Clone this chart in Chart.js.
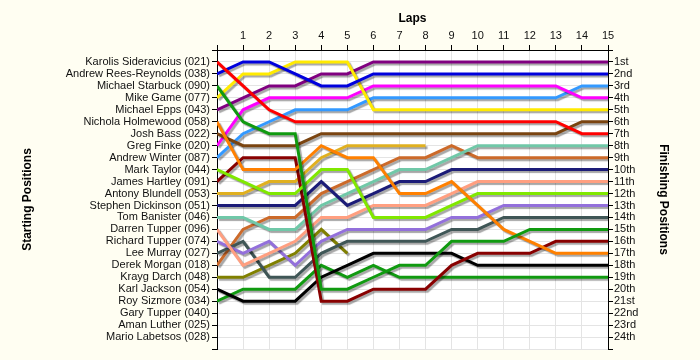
<!DOCTYPE html>
<html>
<head>
<meta charset="utf-8">
<script src="https://cdn.jsdelivr.net/npm/chart.js@4.4.1/dist/chart.umd.min.js"></script>
<style>
    html, body { margin: 0; padding: 0; background: #fffef2; }
    #wrap { width: 700px; height: 360px; }
</style>
</head>
<body>
<div id="wrap"><canvas id="lapChart" width="700" height="360"></canvas></div>
<script>
// Laps along the top
const laps = [0, 1, 2, 3, 4, 5, 6, 7, 8, 9, 10, 11, 12, 13, 14, 15];
const lapLabels = ['', '1', '2', '3', '4', '5', '6', '7', '8', '9', '10', '11', '12', '13', '14', '15'];

// Grid order, left axis
const startingNames = [
    'Karolis Sideravicius (021)', 'Andrew Rees-Reynolds (038)', 'Michael Starbuck (090)',
    'Mike Game (077)', 'Michael Epps (043)', 'Nichola Holmewood (058)', 'Josh Bass (022)',
    'Greg Finke (020)', 'Andrew Winter (087)', 'Mark Taylor (044)', 'James Hartley (091)',
    'Antony Blundell (053)', 'Stephen Dickinson (051)', 'Tom Banister (046)',
    'Darren Tupper (096)', 'Richard Tupper (074)', 'Lee Murray (027)', 'Derek Morgan (018)',
    'Krayg Darch (048)', 'Karl Jackson (054)', 'Roy Sizmore (034)', 'Gary Tupper (040)',
    'Aman Luther (025)', 'Mario Labetsos (028)'
];

// Right axis
const finishLabels = [
    '1st', '2nd', '3rd', '4th', '5th', '6th', '7th', '8th', '9th', '10th', '11th', '12th',
    '13th', '14th', '15th', '16th', '17th', '18th', '19th', '20th', '21st', '22nd', '23rd', '24th'
];

// Position at each lap (lap 0 = grid)
const sideravicius = [1, 3, 5, 6, 6, 6, 6, 6, 6, 6, 6, 6, 6, 6, 7, 7];
const reesReynolds = [2, 1, 1, 2, 3, 3, 2, 2, 2, 2, 2, 2, 2, 2, 2, 2];
const starbuck     = [3, 6, 7, 7, 20, 20, 19, 18, 18, 16, 16, 16, 15, 15, 15, 15];
const game         = [4, 2, 2, 1, 1, 1, 5, 5, 5, 5, 5, 5, 5, 5, 5, 5];
const epps         = [5, 4, 3, 3, 2, 2, 1, 1, 1, 1, 1, 1, 1, 1, 1, 1];
const holmewood    = [6, 10, 10, 10, 8, 9, 9, 12, 12, 11, 13, 15, 16, 17, 17, 17];
const bass         = [7, 8, 8, 8, 7, 7, 7, 7, 7, 7, 7, 7, 7, 7, 6, 6];
const finke        = [8, 5, 4, 4, 4, 4, 3, 3, 3, 3, 3, 3, 3, 3, 4, 4];
const winter       = [9, 7, 6, 5, 5, 5, 4, 4, 4, 4, 4, 4, 4, 4, 3, 3];
const taylor       = [10, 11, 12, 12, 10, 10, 14, 14, 14, 13, 12, 12, 12, 12, 12, 12];
const hartley      = [11, 9, 9, 9, 21, 21, 20, 20, 20, 18, 17, 17, 17, 16, 16, 16];
const blundell     = [12, 12, 11, 11, 9, 8, 8, 8, 8];
const dickinson    = [13, 13, 13, 13, 11, 13, 12, 11, 11, 10, 10, 10, 10, 10, 10, 10];
const banister     = [14, 14, 15, 15, 13, 12, 11, 10, 10, 9, 8, 8, 8, 8, 8, 8];
const dTupper      = [15, 18, 17, 16, 14, 14, 13, 13, 13, 12, 11, 11, 11, 11, 11, 11];
const rTupper      = [16, 17, 16, 18, 16, 15, 15, 15, 15, 14, 14, 13, 13, 13, 13, 13];
const murray       = [17, 16, 19, 19, 17, 16, 16, 16, 16, 15, 15, 14, 14, 14, 14, 14];
const morgan       = [18, 15, 14, 14, 12, 11, 10, 9, 9, 8, 9, 9, 9, 9, 9, 9];
const darch        = [19, 19, 18, 17, 15, 17];
const jackson      = [20, 21, 21, 21, 19, 18, 17, 17, 17, 17, 18, 18, 18, 18, 18, 18];
const sizmore      = [21, 20, 20, 20, 18, 19, 18, 19, 19, 19, 19, 19, 19, 19, 19, 19];

const runners = [
    sideravicius, reesReynolds, starbuck, game, epps, holmewood, bass, finke, winter, taylor,
    hartley, blundell, dickinson, banister, dTupper, rTupper, murray, morgan, darch, jackson, sizmore
];

const lineColors = [
    '#ff0000', '#0000dd', '#109a10', '#ffea00', '#800080', '#ff8000', '#7a4410', '#ff00ff',
    '#3399ff', '#80e800', '#880000', '#e0b020', '#1c1c78', '#70c8a8', '#ff9f80', '#9370db',
    '#3f5656', '#cc6a2a', '#808000', '#000000', '#109a10'
];

// Background: cream page, white plot area
const backdrop = {
    id: 'backdrop',
    beforeDraw (chart) {
        const { ctx, chartArea } = chart;
        ctx.save();
        ctx.fillStyle = '#fffef2';
        ctx.fillRect(0, 0, chart.width, chart.height);
        ctx.fillStyle = '#ffffff';
        ctx.fillRect(chartArea.left, chartArea.top, chartArea.right - chartArea.left, chartArea.bottom - chartArea.top);
        ctx.restore();
    }
};

// Grey drop shadow under every line
const lineShadow = {
    id: 'lineShadow',
    beforeDatasetDraw (chart) {
        const ctx = chart.ctx;
        ctx.save();
        ctx.shadowColor = 'rgba(0, 0, 0, 0.35)';
        ctx.shadowOffsetX = 2;
        ctx.shadowOffsetY = 2;
        ctx.shadowBlur = 1;
    },
    afterDatasetDraw (chart) {
        chart.ctx.restore();
    }
};

const datasets = runners.map((positions, i) => ({
    label: startingNames[i],
    data: positions.map((p, lap) => ({ x: laps[lap], y: p })),
    borderColor: lineColors[i],
    backgroundColor: lineColors[i],
    borderWidth: 3,
    pointRadius: 0,
    tension: 0,
    fill: false
}));

Chart.defaults.font.family = '"Liberation Sans", Arial, sans-serif';
Chart.defaults.font.size = 11;
Chart.defaults.color = '#111';

const titleFont = { family: '"Liberation Sans", Arial, sans-serif', size: 12, weight: 'bold' };

new Chart(document.getElementById('lapChart'), {
    type: 'line',
    data: { datasets: datasets },
    options: {
        responsive: false,
        animation: false,
        layout: { padding: { left: 0, right: 0, top: 0, bottom: 11 } },
        plugins: {
            legend: { display: false },
            tooltip: { enabled: false }
        },
        scales: {
            x: {
                type: 'linear',
                position: 'top',
                min: 0,
                max: 15,
                afterFit: (scale) => { scale.height = 50; },
                afterBuildTicks: (scale) => { scale.ticks = laps.map((v) => ({ value: v })); },
                ticks: {
                    autoSkip: false,
                    maxRotation: 0,
                    padding: 2,
                    callback: (v) => lapLabels[v]
                },
                grid: { color: '#e4e4e4', tickColor: '#000', tickLength: 5 },
                border: { color: '#000', width: 1 },
                title: { display: true, text: 'Laps', font: titleFont, color: '#000', padding: { top: 11, bottom: 0 } }
            },
            y: {
                type: 'linear',
                position: 'left',
                reverse: true,
                min: 0,
                max: 25,
                afterFit: (scale) => { scale.width = 217; },
                afterBuildTicks: (scale) => {
                    scale.ticks = Array.from({ length: 26 }, (_, i) => ({ value: i }));
                },
                ticks: {
                    autoSkip: false,
                    padding: 2,
                    callback: (v) => startingNames[v - 1] || ''
                },
                grid: { color: '#e4e4e4', tickColor: '#000', tickLength: 5 },
                border: { color: '#000', width: 1 },
                title: { display: true, text: 'Starting Positions', font: titleFont, color: '#000', padding: { top: 20, bottom: 0 } }
            },
            y2: {
                type: 'linear',
                position: 'right',
                reverse: true,
                min: 0,
                max: 25,
                afterFit: (scale) => { scale.width = 92; },
                afterBuildTicks: (scale) => {
                    scale.ticks = Array.from({ length: 26 }, (_, i) => ({ value: i }));
                },
                ticks: {
                    autoSkip: false,
                    padding: 1,
                    callback: (v) => finishLabels[v - 1] || ''
                },
                grid: { drawOnChartArea: false, tickColor: '#000', tickLength: 5 },
                border: { color: '#000', width: 1 },
                title: { display: true, text: 'Finishing Positions', font: titleFont, color: '#000', padding: { top: 29, bottom: 0 } }
            }
        }
    },
    plugins: [backdrop, lineShadow]
});
</script>
</body>
</html>
